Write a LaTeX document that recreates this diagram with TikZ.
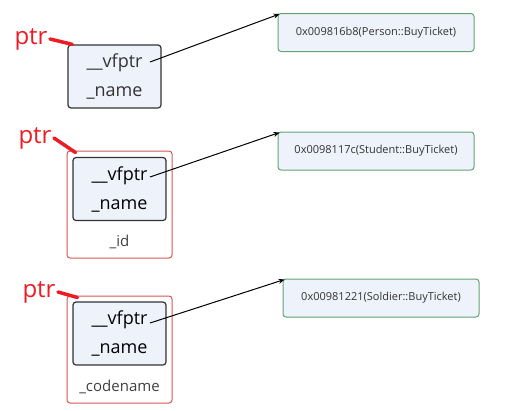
\documentclass[tikz,border=0pt]{standalone}
\usepackage{fontspec}
\setmainfont{Open Sans}
\usetikzlibrary{arrows.meta,positioning}
\definecolor{slotfill}{RGB}{238,242,250}
\definecolor{objline}{RGB}{214,86,86}
\definecolor{tabline}{RGB}{96,164,116}
\definecolor{ptrred}{RGB}{236,28,36}
\tikzset{
  flow/.style={>={Stealth[length=6pt,width=5pt]},line width=1pt},
  slot/.style={draw=black!80,rounded corners=3pt,fill=slotfill,line width=1.2pt,align=center,
    font=\fontsize{18}{29}\selectfont,text=black!80,minimum width=93pt,minimum height=63pt,inner sep=0pt},
  obj/.style={draw=objline,rounded corners=3pt,line width=1pt,minimum width=105pt,minimum height=107pt},
  vtab/.style={draw=tabline,rounded corners=3pt,fill=slotfill,line width=1pt,text=black!80,
    font=\fontsize{11}{13}\selectfont,minimum width=196pt,minimum height=38pt},
  ptrlbl/.style={text=ptrred,font=\fontsize{24}{24}\selectfont,inner sep=0pt},
  ptrln/.style={draw=ptrred,line width=3.5pt,line cap=round},
  member/.style={font=\fontsize{15}{18}\selectfont,text=black!75},
}
\begin{document}
\begin{tikzpicture}[flow,x=1pt,y=-1pt]
\useasboundingbox (0,0) rectangle (506,410);
% Person
\node[slot] (p1) at (114.5,76.5) {\_\_vfptr\\\_name};
\node[vtab] (t1) at (376,32.5) {0x009816b8(Person::BuyTicket)};
\node[ptrlbl] (l1) at (31,39) {ptr};
\coordinate (s1) at (150,62);
\draw[ptrln] ([xshift=2pt]l1.east) -- ([xshift=5pt]p1.north west);
\draw[->] (s1) -- ([xshift=2pt,yshift=-1pt]t1.north west);
% Student
\node[obj] (o2) at (119.5,204.5) {};
\node[slot,text=black] (p2) at (119.5,189) {\_\_vfptr\\\_name};
\node[member] (m2) at (119.5,242) {\_id};
\node[vtab] (t2) at (376,151) {0x0098117c(Student::BuyTicket)};
\node[ptrlbl] (l2) at (35,138) {ptr};
\coordinate (s2) at (150,177);
\draw[ptrln] ([xshift=2pt]l2.east) -- ([xshift=9pt,yshift=-2pt]o2.north west);
\draw[->] (s2) -- ([xshift=2pt,yshift=-1pt]t2.north west);
% Soldier
\node[obj] (o3) at (119.5,349.5) {};
\node[slot,text=black] (p3) at (119.5,333.5) {\_\_vfptr\\\_name};
\node[member] (m3) at (119.5,387) {\_codename};
\node[vtab] (t3) at (381,298) {0x00981221(Soldier::BuyTicket)};
\node[ptrlbl] (l3) at (39,292) {ptr};
\coordinate (s3) at (150,323);
\draw[ptrln] ([xshift=2pt]l3.east) -- ([xshift=11pt,yshift=-2pt]o3.north west);
\draw[->] (s3) -- ([xshift=2pt,yshift=-1pt]t3.north west);
\end{tikzpicture}
\end{document}
